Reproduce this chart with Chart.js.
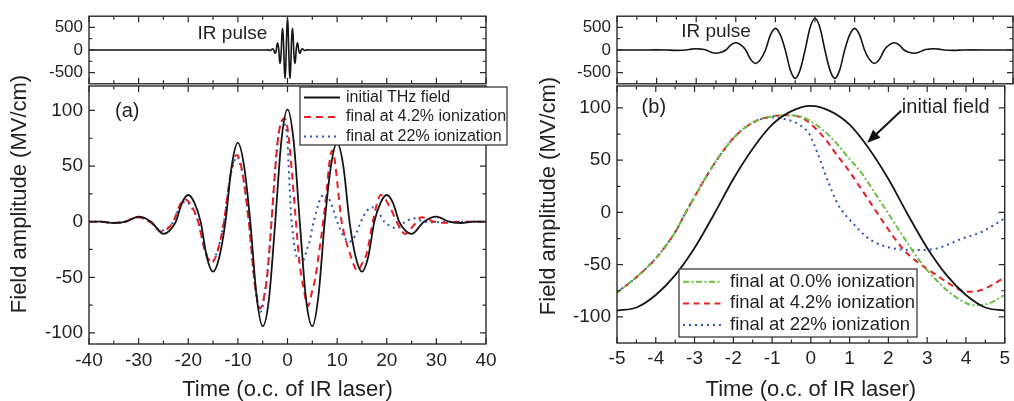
<!DOCTYPE html>
<html>
<head>
<meta charset="utf-8">
<script src="https://cdn.jsdelivr.net/npm/chart.js@4"></script>
<style>
  body { margin: 0; background: #fff; }
  #wrap { position: relative; width: 1014px; height: 401px; overflow: hidden; }
  canvas { position: absolute; top: 0; }
</style>
</head>
<body>
<div id="wrap">
  <canvas id="aMain" width="510" height="401" style="left:0"></canvas>
  <canvas id="aTop" width="510" height="100" style="left:0"></canvas>
  <canvas id="bMain" width="504" height="401" style="left:510px"></canvas>
  <canvas id="bTop" width="504" height="100" style="left:510px"></canvas>
</div>
<script>
// IR pulse field (MV/cm) vs time (o.c.), shared by both upper panels
const irTime = [-5, -4.5, -4, -3.75, -3.5, -3.25, -3.125, -3, -2.875, -2.75, -2.625, -2.5, -2.375, -2.25, -2.125, -2, -1.875, -1.75, -1.625, -1.5, -1.375, -1.25, -1.125, -1, -0.875, -0.75, -0.625, -0.5, -0.375, -0.25, -0.125, 0, 0.125, 0.25, 0.375, 0.5, 0.625, 0.75, 0.875, 1, 1.125, 1.25, 1.375, 1.5, 1.625, 1.75, 1.875, 2, 2.125, 2.25, 2.375, 2.5, 2.625, 2.75, 2.875, 3, 3.125, 3.25, 3.5, 3.75, 4, 4.5, 5];
const irField = [0, 0, 2, 0, -8, 0, 19, 28, 19, 0, -50, -72, -50, 0, 113, 161, 113, 0, -208, -297, -208, 0, 335, 479, 335, 0, -441, -630, -441, 0, 494, 705, 494, 0, -441, -630, -441, 0, 335, 479, 335, 0, -208, -297, -208, 0, 113, 161, 113, 0, -50, -72, -50, 0, 19, 28, 19, 0, -8, 0, 2, 0, 0];
const irEdgeTime = [-40, 40];
const irEdgeField = [0, 0];

// panel (a): THz field over the full window
const aInitTime = [-40, -37.5, -35, -32.5, -30, -27.5, -25, -23.75, -22.5, -21.25, -20, -18.75, -17.5, -16.25, -15, -13.75, -12.5, -11.25, -10, -8.75, -7.5, -6.25, -5, -3.75, -2.5, -1.25, 0, 1.25, 2.5, 3.75, 5, 6.25, 7.5, 8.75, 10, 11.25, 12.5, 13.75, 15, 16.25, 17.5, 18.75, 20, 21.25, 22.5, 23.75, 25, 27.5, 30, 32.5, 35, 37.5, 40];
const aInitField = [0, 0, -1.2, 0, 4.5, 0, -11, -8, 0, 17, 24, 17, 0, -32, -45, -32, 0, 50, 71, 50, 0, -66, -94, -70, -2, 72, 101, 72, -2, -70, -94, -66, 0, 50, 71, 50, 0, -32, -45, -32, 0, 17, 24, 17, 0, -8, -11, 0, 4.5, 0, -1.2, 0, 0];

const aLowTime = [-40, -37.8, -35.3, -32.8, -30.3, -27.8, -25.3, -24.15, -23, -21.8, -20.6, -19.3, -18, -16.65, -15.3, -14.05, -12.8, -11.5, -10.2, -9, -7.8, -6.6, -5.5, -4.5, -4, -3.24, -2.5, -2, -1.5, -0.6, 0.13, 0.88, 1.47, 2.4, 3.24, 4.1, 5, 5.5, 6.5, 7.2, 7.9, 8.5, 9, 9.5, 10.2, 10.9, 11.25, 12.6, 14.1, 15, 16, 17.2, 18.8, 20.65, 22, 23.7, 25.5, 27, 29.5, 32, 35, 40];
const aLowField = [0, 0, -1.2, 0, 4, 0, -9, -6.3, 0, 14, 20, 14, 0, -26, -37, -26, 0, 42, 60, 42, 0, -55, -78, -62, -44, -1, 46, 71, 86, 93, 80, 45, 13, -36, -60, -76, -62, -53, -23, 0, 28, 55, 64, 56, 28, 0, -8, -29, -44, -38, -28, 0, 24, 13, 0, -11, -3, 4, 0, -1, 0, 0];

const aHighTime = [-40, -37.8, -35.3, -32.8, -30.3, -27.8, -25.3, -24.15, -23, -21.8, -20.6, -19.3, -18, -16.65, -15.3, -14.05, -12.8, -11.5, -10.2, -9, -7.8, -6.6, -5.4, -4.5, -4, -3.24, -2.5, -2, -1.5, -1, -0.63, -0.04, 0.21, 0.46, 0.71, 1.05, 1.55, 2.14, 2.73, 3.24, 3.91, 4.41, 5, 5.3, 6.4, 7.5, 8.75, 10, 11.25, 12.5, 13.65, 14.8, 15.9, 17, 18.25, 19.5, 20.75, 22, 23.8, 25.5, 27.5, 30, 32, 40];
const aHighField = [0, 0, -1.2, 0, 4, 0, -8, -5.6, 0, 12.6, 18, 12.6, 0, -25, -36, -25, 0, 41, 58, 41, 0, -57, -81, -62, -44, -1, 46, 71, 86, 91, 89, 75, 53, 28, 7, -9, -26.5, -34.5, -36, -34.5, -25, -18.6, -5.7, 0, 18, 25, 17, 0, -12.6, -18, -12.6, 0, 9, 13, 9, 0, -4, -6, 0, 3, 0, -0.5, 0, 0];

// panel (b): zoom on the central cycle
const bInitTime = [-5, -4.5, -4, -3.5, -3, -2.5, -2, -1.5, -1, -0.5, 0, 0.5, 1, 1.5, 2, 2.5, 3, 3.5, 4, 4.5, 5];
const bInitField = [-94, -91, -79, -60, -34, -2, 32, 61, 84, 97, 102, 97, 84, 61, 32, -2, -34, -60, -79, -91, -94];

const bZeroTime = [-5, -4.5, -4, -3.5, -3.24, -3, -2.5, -2, -1.5, -1, -0.6, -0.2, 0.13, 0.46, 0.71, 0.93, 1.3, 1.89, 2.31, 2.82, 3.24, 3.7, 4.24, 4.6, 5];
const bZeroField = [-76.6, -62, -44, -19, -1, 15, 46, 71, 86, 92, 93, 91, 84, 74, 64, 54, 38, 5, -19, -47, -65, -80, -89, -87, -79];

const bLowTime = [-5, -4.5, -4, -3.5, -3.24, -3, -2.5, -2, -1.5, -1, -0.6, -0.2, 0.13, 0.46, 0.67, 0.88, 1.47, 1.89, 2.4, 2.73, 3.24, 3.6, 3.91, 4.2, 4.41, 4.7, 5];
const bLowField = [-76.6, -62, -44, -19, -1, 15, 46, 71, 86, 92, 93, 90, 80, 66, 55, 45, 13, -10.5, -36, -47, -60, -69, -75, -76, -74, -69, -62];

const bHighTime = [-5, -4.5, -4, -3.5, -3.24, -3, -2.5, -2, -1.5, -1, -0.63, -0.3, -0.04, 0.17, 0.46, 0.71, 1.05, 1.55, 2.14, 2.73, 3.24, 3.91, 4.41, 5];
const bHighField = [-76.6, -62, -44, -19, -1, 15, 46, 71, 86, 91, 89, 84, 75, 57, 28, 7, -9, -26.5, -34.5, -36, -34.5, -25, -18.6, -5.7];

// tick labels
const aTicksX = [-40, -30, -20, -10, 0, 10, 20, 30, 40];
const bTicksX = [-5, -4, -3, -2, -1, 0, 1, 2, 3, 4, 5];
const fieldTicks = [-100, -50, 0, 50, 100];
const irTicks = [-500, 0, 500];

const FONT = "'Liberation Sans', Arial, Helvetica, sans-serif";
const INK = '#231f20';
Chart.defaults.font.family = FONT;
Chart.defaults.color = INK;

const pts = (ts, vs) => ts.map((t, i) => ({ x: t, y: vs[i] }));
const fixTicks = vals => scale => { scale.ticks = vals.map(v => ({ value: v })); };

const solid = { borderColor: '#151515', borderWidth: 1.8 };
const red = { borderColor: '#ec1c24', borderWidth: 2, borderDash: [7, 5] };
const blue = { borderColor: '#2f52b4', borderWidth: 2, borderDash: [2, 4] };
const green = { borderColor: '#6cbf45', borderWidth: 2, borderDash: [6, 2.5, 2, 2.5] };

// frame with inward ticks on all four sides
const framePlugin = {
  id: 'frame',
  afterDatasetsDraw(chart) {
    const { ctx, chartArea: a } = chart;
    const sx = chart.scales.x, sy = chart.scales.y;
    const marks = s => {
      const v = s.ticks.map(t => t.value);
      const out = [];
      v.forEach((val, i) => {
        out.push([val, 6]);
        if (i < v.length - 1) out.push([(val + v[i + 1]) / 2, 3.5]);
      });
      return out;
    };
    ctx.save();
    ctx.strokeStyle = '#2a2a2a';
    ctx.lineWidth = 1.2;
    ctx.beginPath();
    marks(sx).forEach(([v, len]) => {
      const p = sx.getPixelForValue(v);
      ctx.moveTo(p, a.bottom); ctx.lineTo(p, a.bottom - len);
      ctx.moveTo(p, a.top); ctx.lineTo(p, a.top + len);
    });
    marks(sy).forEach(([v, len]) => {
      const p = sy.getPixelForValue(v);
      ctx.moveTo(a.left, p); ctx.lineTo(a.left + len, p);
      ctx.moveTo(a.right, p); ctx.lineTo(a.right - len, p);
    });
    ctx.stroke();
    ctx.lineWidth = 1.4;
    ctx.strokeRect(a.left, a.top, a.right - a.left, a.bottom - a.top);
    ctx.restore();
  }
};

// boxed legend placed inside the plot
const boxLegend = {
  id: 'boxLegend',
  afterDatasetsDraw(chart, args, o) {
    if (!o || !o.w) return;
    const { ctx, chartArea: a } = chart;
    const x0 = a.left + o.dx, y0 = a.top + o.dy;
    ctx.save();
    ctx.fillStyle = '#fff';
    ctx.fillRect(x0, y0, o.w, o.h);
    ctx.strokeStyle = '#2a2a2a';
    ctx.lineWidth = 1.2;
    ctx.strokeRect(x0, y0, o.w, o.h);
    ctx.font = o.size + 'px ' + FONT;
    ctx.textBaseline = 'middle';
    ctx.fillStyle = INK;
    chart.data.datasets.filter(d => d.inLegend !== false).forEach((d, i) => {
      const y = y0 + o.row0 + i * o.rowGap;
      ctx.save();
      ctx.strokeStyle = d.borderColor;
      ctx.lineWidth = d.borderWidth;
      ctx.setLineDash(d.borderDash || []);
      ctx.beginPath();
      ctx.moveTo(x0 + o.s0, y);
      ctx.lineTo(x0 + o.s1, y);
      ctx.stroke();
      ctx.restore();
      ctx.fillText(d.label, x0 + o.tx, y);
    });
    ctx.restore();
  }
};

// free text, arrow and vertical axis title
const notes = {
  id: 'notes',
  afterDraw(chart, args, o) {
    const { ctx } = chart;
    const sx = chart.scales.x, sy = chart.scales.y;
    ctx.save();
    ctx.fillStyle = INK;
    ctx.textAlign = 'center';
    ctx.textBaseline = 'middle';
    (o.texts || []).forEach(t => {
      ctx.font = t.size + 'px ' + FONT;
      ctx.fillText(t.text, sx.getPixelForValue(t.x), sy.getPixelForValue(t.y));
    });
    if (o.arrow) {
      const x1 = sx.getPixelForValue(o.arrow.x1), y1 = sy.getPixelForValue(o.arrow.y1);
      const x2 = sx.getPixelForValue(o.arrow.x2), y2 = sy.getPixelForValue(o.arrow.y2);
      const ang = Math.atan2(y2 - y1, x2 - x1);
      const L = 13, W = 5.5;
      ctx.strokeStyle = '#111';
      ctx.lineWidth = 2;
      ctx.beginPath();
      ctx.moveTo(x1, y1);
      ctx.lineTo(x2 - L * 0.8 * Math.cos(ang), y2 - L * 0.8 * Math.sin(ang));
      ctx.stroke();
      ctx.fillStyle = '#111';
      ctx.beginPath();
      ctx.moveTo(x2, y2);
      ctx.lineTo(x2 - L * Math.cos(ang) + W * Math.sin(ang), y2 - L * Math.sin(ang) - W * Math.cos(ang));
      ctx.lineTo(x2 - L * Math.cos(ang) - W * Math.sin(ang), y2 - L * Math.sin(ang) + W * Math.cos(ang));
      ctx.closePath();
      ctx.fill();
    }
    if (o.yTitle) {
      ctx.fillStyle = INK;
      ctx.font = '22px ' + FONT;
      ctx.translate(o.yTitle.x, o.yTitle.y);
      ctx.rotate(-Math.PI / 2);
      ctx.fillText(o.yTitle.text, 0, 0);
    }
    ctx.restore();
  }
};

function panel(id, datasets, c) {
  return new Chart(document.getElementById(id), {
    type: 'line',
    data: { datasets },
    plugins: [framePlugin, boxLegend, notes],
    options: {
      responsive: false,
      animation: false,
      events: [],
      layout: { autoPadding: false, padding: c.pad },
      elements: { point: { radius: 0 }, line: { cubicInterpolationMode: 'monotone' } },
      plugins: {
        legend: { display: false },
        tooltip: { enabled: false },
        boxLegend: c.legend || {},
        notes: c.notes || {}
      },
      scales: {
        x: {
          type: 'linear', min: c.xMin, max: c.xMax,
          afterBuildTicks: fixTicks(c.xTicks),
          afterFit: s => { s.height = c.xH; },
          grid: { display: false, drawTicks: false }, border: { display: false },
          ticks: { display: !!c.xTitle, maxRotation: 0, autoSkip: false, padding: c.xPad || 5, font: { size: 19 } },
          title: { display: !!c.xTitle, text: c.xTitle, font: { size: 22, lineHeight: 1 }, padding: 0 }
        },
        y: {
          type: 'linear', min: c.yMin, max: c.yMax,
          afterBuildTicks: fixTicks(c.yTicks),
          afterFit: s => { s.width = c.yW; },
          grid: { display: false, drawTicks: false }, border: { display: false },
          ticks: { padding: c.yPad, font: { size: c.ySize } }
        }
      }
    }
  });
}

const fieldTitle = 'Field amplitude (MV/cm)';
const timeTitle = 'Time (o.c. of IR laser)';

panel('aMain', [
  { label: 'initial THz field', data: pts(aInitTime, aInitField), ...solid },
  { label: 'final at 4.2% ionization', data: pts(aLowTime, aLowField), ...red },
  { label: 'final at 22% ionization', data: pts(aHighTime, aHighField), ...blue }
], {
  pad: { top: 86, right: 24, left: 0, bottom: 0 },
  xMin: -40, xMax: 40, xTicks: aTicksX, xH: 57, xPad: 5, xTitle: timeTitle,
  yMin: -110, yMax: 122, yTicks: fieldTicks, yW: 89, yPad: 6, ySize: 19,
  legend: { dx: 211, dy: 1, w: 207, h: 58, row0: 10.5, rowGap: 19.5, s0: 4, s1: 40, tx: 46, size: 16 },
  notes: {
    texts: [{ text: '(a)', x: -32.3, y: 99.5, size: 20 }],
    yTitle: { text: fieldTitle, x: 20, y: 194 }
  }
});

panel('aTop', [
  { label: 'IR pulse', data: pts(irEdgeTime.slice(0, 1).concat(irTime, irEdgeTime.slice(1)), irEdgeField.slice(0, 1).concat(irField, irEdgeField.slice(1))), ...solid, borderWidth: 1.6 }
], {
  pad: { top: 13, right: 24, left: 0, bottom: 0 },
  xMin: -40, xMax: 40, xTicks: aTicksX, xH: 14,
  yMin: -750, yMax: 750, yTicks: irTicks, yW: 89, yPad: 6, ySize: 17,
  notes: { texts: [{ text: 'IR pulse', x: -11.1, y: 360, size: 19 }] }
});

panel('bMain', [
  { label: 'initial field', data: pts(bInitTime, bInitField), ...solid, inLegend: false },
  { label: 'final at 0.0% ionization', data: pts(bZeroTime, bZeroField), ...green },
  { label: 'final at 4.2% ionization', data: pts(bLowTime, bLowField), ...red, borderDash: [6, 4.5] },
  { label: 'final at 22% ionization', data: pts(bHighTime, bHighField), ...blue }
], {
  pad: { top: 86, right: 1, left: 0, bottom: 0 },
  xMin: -5, xMax: 5, xTicks: bTicksX, xH: 58, xPad: 4, xTitle: timeTitle,
  yMin: -125, yMax: 121, yTicks: fieldTicks, yW: 107, yPad: 6, ySize: 19,
  legend: { dx: 62, dy: 183, w: 238, h: 68, row0: 12.7, rowGap: 21.7, s0: 4, s1: 43, tx: 51, size: 18.5 },
  notes: {
    texts: [
      { text: '(b)', x: -4.05, y: 100, size: 20 },
      { text: 'initial field', x: 3.48, y: 100.4, size: 20 }
    ],
    arrow: { x1: 2.33, y1: 97.3, x2: 1.455, y2: 66.7 },
    yTitle: { text: fieldTitle, x: 39, y: 196 }
  }
});

panel('bTop', [
  { label: 'IR pulse', data: pts(irTime, irField), ...solid, borderWidth: 1.6 }
], {
  pad: { top: 13, right: 1, left: 0, bottom: 0 },
  xMin: -5, xMax: 5, xTicks: bTicksX, xH: 14,
  yMin: -750, yMax: 750, yTicks: irTicks, yW: 107, yPad: 6, ySize: 17,
  notes: { texts: [{ text: 'IR pulse', x: -2.5, y: 400, size: 19 }] }
});
</script>
</body>
</html>
